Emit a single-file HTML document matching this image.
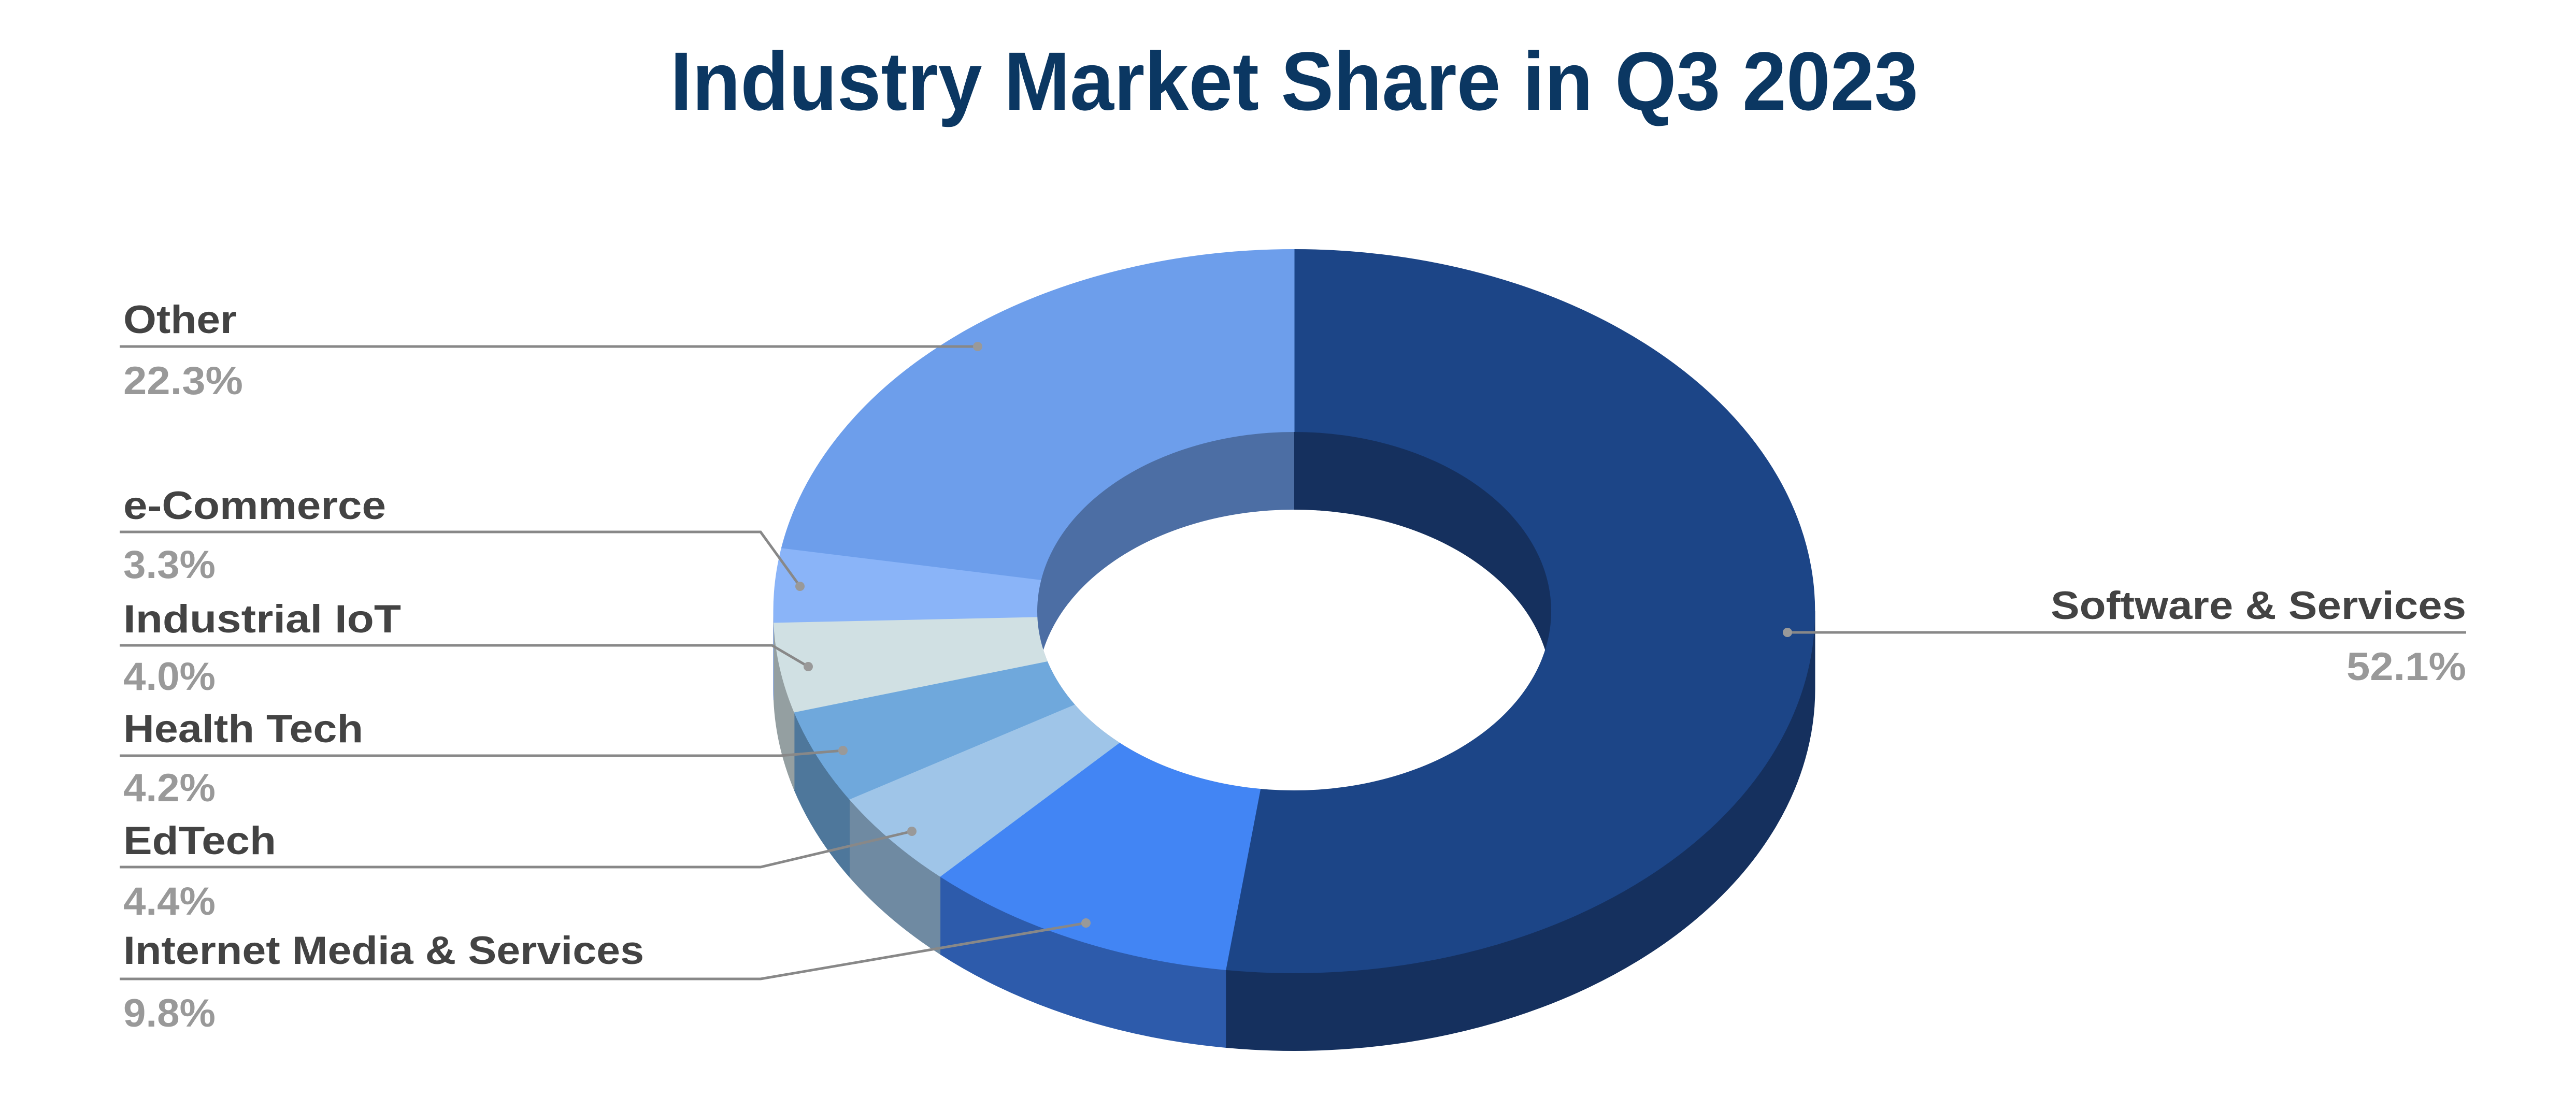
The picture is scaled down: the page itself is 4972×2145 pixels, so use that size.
<!DOCTYPE html>
<html><head><meta charset="utf-8"><style>
html,body{margin:0;padding:0;background:#fff;}
svg{display:block;}
text{font-family:"Liberation Sans",Arial,sans-serif;font-weight:bold;}
</style></head><body>
<svg id="s" width="4972" height="2145" viewBox="0 0 4972 2145" xmlns="http://www.w3.org/2000/svg">
<defs><clipPath id="hole"><ellipse cx="2498" cy="1180" rx="496" ry="346"/></clipPath></defs>
<g id="pie"></g>
<g clip-path="url(#hole)">
<rect x="1990" y="820" width="508" height="720" fill="#4c6ea4"/>
<rect x="2498" y="820" width="510" height="720" fill="#15305e"/>
<ellipse cx="2498" cy="1330" rx="496" ry="346" fill="#fff"/>
</g>
<text x="2498" y="212" text-anchor="middle" font-size="160" fill="#0b3762" textLength="2409" lengthAdjust="spacingAndGlyphs">Industry Market Share in Q3 2023</text>
<g fill="none" stroke="#888" stroke-width="5">
<polyline points="231,669 1887,669"/>
<polyline points="231,1027 1468,1027 1544,1132"/>
<polyline points="231,1246 1490,1246 1560,1287"/>
<polyline points="231,1459 1506,1459 1627,1449"/>
<polyline points="231,1674 1468,1674 1760,1605"/>
<polyline points="231,1890 1468,1890 2096,1782"/>
<polyline points="3450,1221 4760,1221"/>
</g>
<g fill="#999">
<circle cx="1887" cy="669" r="9"/><circle cx="1544" cy="1132" r="9"/><circle cx="1560" cy="1287" r="9"/>
<circle cx="1627" cy="1449" r="9"/><circle cx="1760" cy="1605" r="9"/><circle cx="2096" cy="1782" r="9"/>
<circle cx="3450" cy="1221" r="9"/>
</g>
<g font-size="76" fill="#434343">
<text x="238" y="643" textLength="219" lengthAdjust="spacingAndGlyphs">Other</text>
<text x="238" y="1002" textLength="507" lengthAdjust="spacingAndGlyphs">e-Commerce</text>
<text x="238" y="1221" textLength="536" lengthAdjust="spacingAndGlyphs">Industrial IoT</text>
<text x="238" y="1433" textLength="463" lengthAdjust="spacingAndGlyphs">Health Tech</text>
<text x="238" y="1649" textLength="295" lengthAdjust="spacingAndGlyphs">EdTech</text>
<text x="238" y="1861" textLength="1005" lengthAdjust="spacingAndGlyphs">Internet Media &amp; Services</text>
<text x="4760" y="1195" text-anchor="end" textLength="802" lengthAdjust="spacingAndGlyphs">Software &amp; Services</text>
</g>
<g font-size="76" fill="#999">
<text x="238" y="761" textLength="231" lengthAdjust="spacingAndGlyphs">22.3%</text>
<text x="238" y="1116" textLength="178" lengthAdjust="spacingAndGlyphs">3.3%</text>
<text x="238" y="1332" textLength="178" lengthAdjust="spacingAndGlyphs">4.0%</text>
<text x="238" y="1547" textLength="178" lengthAdjust="spacingAndGlyphs">4.2%</text>
<text x="238" y="1766" textLength="178" lengthAdjust="spacingAndGlyphs">4.4%</text>
<text x="238" y="1982" textLength="178" lengthAdjust="spacingAndGlyphs">9.8%</text>
<text x="4760" y="1313" text-anchor="end" textLength="231" lengthAdjust="spacingAndGlyphs">52.1%</text>
</g>
</svg>
<script>
(function(){
var cx=2498,cy=1180,R=1005,k=0.695,r=496,ri=346,d=150;
var sl=[[52.1,"#1c4587","#15305e"],[9.8,"#4285f4","#2d5bab"],[4.4,"#9fc5e8","#6f8aa2"],[4.2,"#6fa8dc","#4e779b"],[4.0,"#d0e0e3","#949fa1"],[3.3,"#8ab4f8","#6a8bc0"],[22.3,"#6d9eeb","#4c6ea4"]];
function P(t,rx,ry,dy){var a=t*Math.PI/180;return [(cx+rx*Math.sin(a)).toFixed(1),(cy-ry*Math.cos(a)+(dy||0)).toFixed(1)];}
var g=document.getElementById("pie"),sides="",tops="";
var t=0,arr=[];
sl.forEach(function(s,i){var t2=(i==sl.length-1)?360:t+s[0]*3.6;arr.push([t,t2,s]);t=t2;});
arr.forEach(function(o){var a=Math.max(o[0],90),b=Math.min(o[1],270);
 if(b>a){var p1=P(a,R,R*k),p2=P(b,R,R*k),p3=P(b,R,R*k,d),p4=P(a,R,R*k,d);
 sides+='<path fill="'+o[2][2]+'" stroke="'+o[2][2]+'" stroke-width="1" d="M'+p1+' A'+R+' '+(R*k)+' 0 0 1 '+p2+' L'+p3+' A'+R+' '+(R*k)+' 0 0 0 '+p4+'Z"/>';}
 var lg=(o[1]-o[0])>180?1:0;var q1=P(o[0],R,R*k),q2=P(o[1],R,R*k),q3=P(o[1],r,ri),q4=P(o[0],r,ri);
 tops+='<path fill="'+o[2][1]+'" stroke="'+o[2][1]+'" stroke-width="1" d="M'+q1+' A'+R+' '+(R*k)+' 0 '+lg+' 1 '+q2+' L'+q3+' A'+r+' '+ri+' 0 '+lg+' 0 '+q4+'Z"/>';
});
g.innerHTML=sides+tops;
})();
</script>
</body></html>
